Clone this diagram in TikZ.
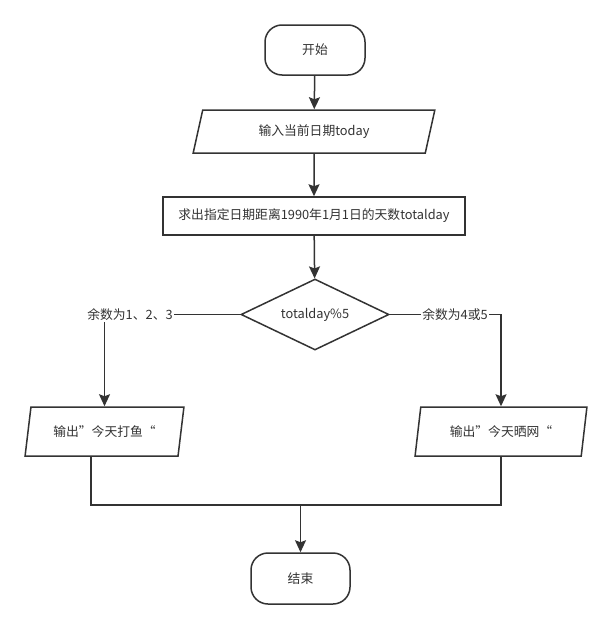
\documentclass[tikz,border=0pt]{standalone}
\usepackage{fontspec}
\setmainfont{Noto Sans CJK SC}
\newfontfamily\fwq[RawFeature=+fwid]{Noto Sans CJK SC}
\usetikzlibrary{shapes.geometric,arrows.meta}
\definecolor{linec}{HTML}{333333}
\definecolor{textc}{HTML}{333333}
\tikzset{
  base/.style={draw=linec, line width=1.5pt, fill=white, text=textc, font=\fontsize{12.8}{15}\selectfont, inner sep=0pt},
  term/.style={base, rectangle, rounded corners=17pt},
  procbox/.style={base, rectangle},
  iobox/.style={base, trapezium, trapezium left angle=71, trapezium right angle=109, trapezium stretches=true},
  decide/.style={base, diamond, aspect=2},
  conn/.style={draw=linec, line width=1.5pt},
  arr/.style={conn, -{Stealth[length=12pt,width=11pt,inset=2pt]}},
  lbl/.style={fill=white, text=textc, font=\fontsize{12.8}{15}\selectfont, inner sep=1pt}
}
\begin{document}
\begin{tikzpicture}[x=1pt,y=-1pt]
\useasboundingbox (0,0) rectangle (612,629);
\fill[white] (0,0) rectangle (612,629);
\node[term, minimum width=100pt, minimum height=50pt] (start) at (315,50) {开始};
\node[iobox, minimum width=242pt, minimum height=43pt] (input) at (314,131.5) {输入当前日期today};
\node[procbox, minimum width=302pt, minimum height=38pt] (proc) at (314,216) {求出指定日期距离1990年1月1日的天数totalday};
\node[decide, minimum width=148pt, minimum height=71pt] (dec) at (315,314.5) {totalday\%5};
\node[iobox, minimum width=159pt, minimum height=49pt] (outl) at (104.5,431.5) {输出{\fwq ”}今天打鱼{\fwq “}};
\node[iobox, minimum width=172pt, minimum height=49pt, trapezium left angle=73, trapezium right angle=107] (outr) at (501,431.5) {输出{\fwq ”}今天晒网{\fwq “}};
\node[term, minimum width=99pt, minimum height=51pt] (end) at (300.5,578.5) {结束};
\coordinate (j) at (300.5,505);
\draw[arr] (start) -- (input);
\draw[arr] (input) -- (proc);
\draw[arr] (proc) -- (dec);
\draw[arr] (dec.west) -| (outl.north);
\draw[arr] (dec.east) -| (outr.north);
\node[lbl] (l1) at (130,315) {余数为1、2、3};
\node[lbl] (l2) at (455,315) {余数为4或5};
\draw[conn] ([xshift=-13.5pt]outl.south) |- (j) -| (outr.south);
\draw[arr] (j) -- (end);
\end{tikzpicture}
\end{document}
